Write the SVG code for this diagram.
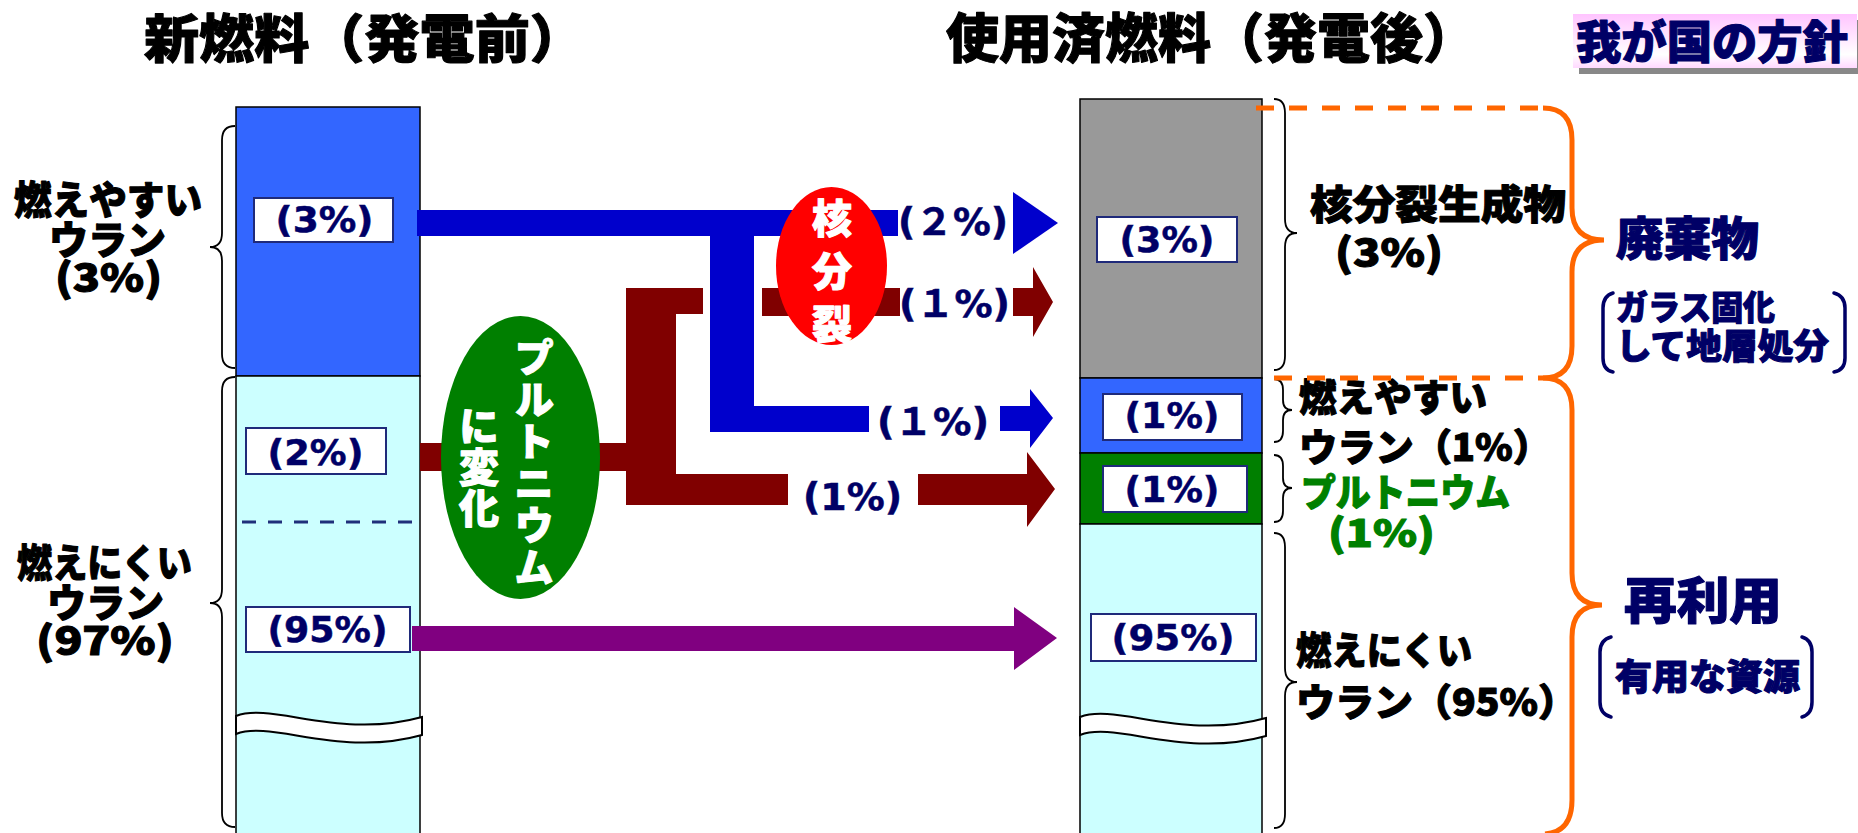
<svg xmlns="http://www.w3.org/2000/svg" width="1858" height="833" viewBox="0 0 1858 833">
<style>
.jp{font-family:"Noto Sans CJK JP","Noto Sans CJK SC",sans-serif;font-weight:900;fill:#000;stroke:#000;stroke-width:1.1;stroke-linejoin:round}
.pct{font-family:"DejaVu Sans","Noto Sans CJK JP",sans-serif;font-weight:700;fill:#000066;stroke:#000066;stroke-width:0.5}
.nv{fill:#000066;stroke:#000066}
.gr{fill:#008000;stroke:#008000}
.bar{stroke:#000;stroke-width:1.5}
.box{fill:#fff;stroke:#1F2A7A;stroke-width:2}
.brace{fill:none;stroke:#000;stroke-width:1.8}
.obrace{fill:none;stroke:#FF6600;stroke-width:5}
.odash{fill:none;stroke:#FF6600;stroke-width:5;stroke-dasharray:18 15}
.bkt{fill:none;stroke:#000066;stroke-width:3.5;stroke-linecap:round}
.wave{fill:#fff;stroke:#000;stroke-width:2}
.wt{fill:#fff;stroke:#fff}
.vt{writing-mode:vertical-rl}
</style>
<defs>
<linearGradient id="pink" x1="0" y1="0" x2="0" y2="1">
<stop offset="0" stop-color="#FFC4FF"/>
<stop offset="0.75" stop-color="#FFFFFF"/>
<stop offset="1" stop-color="#FFD8FF"/>
</linearGradient>
<path id="wv" d="M236,716 C272,702 340,740 422,717 L422,735 C340,758 272,720 236,734 Z"/>
</defs>

<g id="titles">
<text class="jp" x="144" y="58" font-size="52" textLength="441" lengthAdjust="spacingAndGlyphs">新燃料（発電前）</text>
<text class="jp" x="946" y="58" font-size="53">使用済燃料（発電後）</text>
</g>

<g id="policy-title">
<rect x="1579" y="20" width="284" height="54" fill="#888"/>
<rect x="1573" y="14" width="284" height="54" fill="url(#pink)"/>
<text class="jp nv" x="1576" y="59" font-size="45" textLength="272" lengthAdjust="spacingAndGlyphs">我が国の方針</text>
</g>

<g id="fresh-fuel">
<rect class="bar" x="236" y="107" width="184" height="269" fill="#3366FF"/>
<rect class="bar" x="236" y="376" width="184" height="460" fill="#CCFFFF"/>
<line x1="242" y1="522" x2="423" y2="522" stroke="#1F2F7A" stroke-width="3" stroke-dasharray="14 12"/>
<use href="#wv" class="wave"/>
<rect class="box" x="254" y="198" width="139" height="44"/>
<text class="pct" x="324.5" y="232" font-size="35" text-anchor="middle" textLength="98" lengthAdjust="spacingAndGlyphs">(3%)</text>
<rect class="box" x="246" y="428" width="140" height="46"/>
<text class="pct" x="315.5" y="465" font-size="35" text-anchor="middle" textLength="96" lengthAdjust="spacingAndGlyphs">(2%)</text>
<rect class="box" x="246" y="607" width="164" height="45"/>
<text class="pct" x="327.5" y="642" font-size="35" text-anchor="middle" textLength="120" lengthAdjust="spacingAndGlyphs">(95%)</text>
</g>

<g id="fresh-labels">
<path class="brace" d="M235,126 Q222,126 222,140 L222,233 Q222,247 210,247 Q222,247 222,261 L222,354 Q222,368 235,368"/>
<path class="brace" d="M235,377 Q222,377 222,391 L222,589 Q222,603 210,603 Q222,603 222,617 L222,813 Q222,827 235,827"/>
<text class="jp" font-size="39"><tspan x="14" y="214" textLength="188" lengthAdjust="spacingAndGlyphs">燃えやすい</tspan><tspan x="49" y="254">ウラン</tspan><tspan x="55" y="292" textLength="107" lengthAdjust="spacingAndGlyphs">(3%)</tspan></text>
<text class="jp" font-size="39"><tspan x="17" y="577" textLength="175" lengthAdjust="spacingAndGlyphs">燃えにくい</tspan><tspan x="47" y="617">ウラン</tspan><tspan x="36" y="655" textLength="138" lengthAdjust="spacingAndGlyphs">(97%)</tspan></text>
</g>

<g id="connectors">
<polygon fill="#0000CC" points="417,210 898,210 898,236 754,236 754,406 869,406 869,432 710,432 710,236 417,236"/>
<polygon fill="#0000CC" points="1013,192 1058,223 1013,254"/>
<polygon fill="#0000CC" points="1000,406 1030,406 1030,389 1053,418 1030,448 1030,431 1000,431"/>
<polygon fill="#800000" points="420,443 626,443 626,288 703,288 703,314 676,314 676,474 788,474 788,505 626,505 626,471 420,471"/>
<rect fill="#800000" x="762" y="288" width="138" height="28"/>
<polygon fill="#800000" points="1013,288 1033,288 1033,267 1053,302 1033,337 1033,316 1013,316"/>
<polygon fill="#800000" points="918,474 1027,474 1027,452 1055,489 1027,527 1027,505 918,505"/>
<polygon fill="#800080" points="412,626 1014,626 1014,607 1057,638 1014,670 1014,651 412,651"/>
<text class="pct" x="898" y="235" font-size="37" textLength="110" lengthAdjust="spacingAndGlyphs">(２%)</text>
<text class="pct" x="899" y="317" font-size="37" textLength="111" lengthAdjust="spacingAndGlyphs">(１%)</text>
<text class="pct" x="877" y="435" font-size="37" textLength="112" lengthAdjust="spacingAndGlyphs">(１%)</text>
<text class="pct" x="803" y="510" font-size="37" textLength="99" lengthAdjust="spacingAndGlyphs">(1%)</text>
</g>

<g id="plutonium-change">
<ellipse cx="520.5" cy="457.5" rx="79.5" ry="141.5" fill="#007F00"/>
<text class="jp wt vt" x="534" y="337" font-size="40" letter-spacing="2">プルトニウム</text>
<text class="jp wt vt" x="479" y="406" font-size="40" letter-spacing="1">に変化</text>
</g>

<g id="fission">
<ellipse cx="831.5" cy="266" rx="55.5" ry="79" fill="#FF0000"/>
<text class="jp wt vt" x="832" y="198" font-size="40" letter-spacing="13">核分裂</text>
</g>

<g id="spent-fuel">
<rect class="bar" x="1080" y="99" width="182" height="279" fill="#999999"/>
<rect class="bar" x="1080" y="378" width="182" height="75" fill="#3366FF"/>
<rect class="bar" x="1080" y="453" width="182" height="71" fill="#007F00"/>
<rect class="bar" x="1080" y="524" width="182" height="312" fill="#CCFFFF"/>
<use href="#wv" class="wave" transform="translate(844,1)"/>
<rect class="box" x="1097" y="217" width="140" height="45"/>
<text class="pct" x="1167" y="252" font-size="35" text-anchor="middle" textLength="95" lengthAdjust="spacingAndGlyphs">(3%)</text>
<rect class="box" x="1103" y="394" width="139" height="46"/>
<text class="pct" x="1172" y="428" font-size="35" text-anchor="middle" textLength="95" lengthAdjust="spacingAndGlyphs">(1%)</text>
<rect class="box" x="1103" y="466" width="144" height="46"/>
<text class="pct" x="1172" y="502" font-size="35" text-anchor="middle" textLength="95" lengthAdjust="spacingAndGlyphs">(1%)</text>
<rect class="box" x="1091" y="614" width="165" height="47"/>
<text class="pct" x="1173" y="650" font-size="35" text-anchor="middle" textLength="123" lengthAdjust="spacingAndGlyphs">(95%)</text>
</g>

<g id="spent-labels">
<path class="brace" d="M1274,99 Q1285,99 1285,113 L1285,219 Q1285,233 1297,233 Q1285,233 1285,247 L1285,356 Q1285,370 1274,370"/>
<path class="brace" d="M1274,379 Q1283,379 1283,390 L1283,400 Q1283,410 1292,410 Q1283,410 1283,420 L1283,431 Q1283,442 1274,442"/>
<path class="brace" d="M1274,455 Q1283,455 1283,466 L1283,478 Q1283,488 1292,488 Q1283,488 1283,498 L1283,511 Q1283,522 1274,522"/>
<path class="brace" d="M1274,533 Q1285,533 1285,547 L1285,668 Q1285,682 1297,682 Q1285,682 1285,696 L1285,814 Q1285,828 1274,828"/>
<text class="jp"><tspan x="1310" y="219" font-size="40" textLength="256" lengthAdjust="spacingAndGlyphs">核分裂生成物</tspan><tspan x="1335" y="267" font-size="39" textLength="108" lengthAdjust="spacingAndGlyphs">(3%)</tspan></text>
<text class="jp" font-size="38"><tspan x="1299" y="411" textLength="188" lengthAdjust="spacingAndGlyphs">燃えやすい</tspan><tspan x="1299" y="461" textLength="252" lengthAdjust="spacingAndGlyphs">ウラン（1%）</tspan><tspan class="gr" x="1301" y="506" textLength="209" lengthAdjust="spacingAndGlyphs">プルトニウム</tspan><tspan class="gr" x="1328" y="547" textLength="107" lengthAdjust="spacingAndGlyphs">(1%)</tspan></text>
<text class="jp" font-size="38"><tspan x="1296" y="664" textLength="176" lengthAdjust="spacingAndGlyphs">燃えにくい</tspan><tspan x="1296" y="716" textLength="281" lengthAdjust="spacingAndGlyphs">ウラン（95%）</tspan></text>
</g>

<g id="policy">
<path class="odash" d="M1256,108 L1543,108"/>
<path class="odash" d="M1274,378 L1543,378"/>
<path class="obrace" d="M1543,108 Q1572,108 1572,140 L1572,208 Q1572,240 1604,240 Q1572,240 1572,272 L1572,346 Q1572,378 1543,378"/>
<path class="obrace" d="M1543,378 Q1572,378 1572,410 L1572,573 Q1572,605 1602,605 Q1572,605 1572,637 L1572,800 Q1572,832 1545,834"/>
<text class="jp nv" x="1616" y="255" font-size="46" textLength="143" lengthAdjust="spacingAndGlyphs">廃棄物</text>
<path class="bkt" d="M1613,293 Q1603,296 1603,308 L1603,358 Q1603,370 1613,372"/>
<path class="bkt" d="M1834,293 Q1845,296 1845,308 L1845,358 Q1845,370 1834,372"/>
<text class="jp nv"><tspan x="1616" y="320" font-size="34" textLength="159" lengthAdjust="spacingAndGlyphs">ガラス固化</tspan><tspan x="1616" y="359" font-size="35" textLength="213" lengthAdjust="spacingAndGlyphs">して地層処分</tspan></text>
<text class="jp nv" x="1624" y="619" font-size="50" textLength="158" lengthAdjust="spacingAndGlyphs">再利用</text>
<path class="bkt" d="M1611,637 Q1600,640 1600,652 L1600,702 Q1600,714 1611,717"/>
<path class="bkt" d="M1802,637 Q1812,640 1812,652 L1812,702 Q1812,714 1802,717"/>
<text class="jp nv" x="1615" y="690" font-size="36" textLength="185" lengthAdjust="spacingAndGlyphs">有用な資源</text>
</g>
</svg>
